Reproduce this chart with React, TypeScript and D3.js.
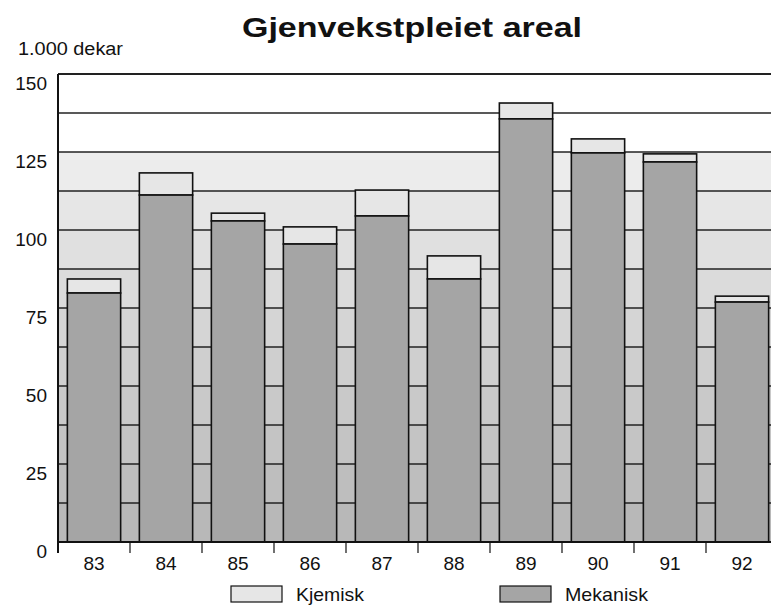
import React, { useEffect, useRef } from "react";
import * as d3 from "d3";

const years = ["83", "84", "85", "86", "87", "88", "89", "90", "91", "92"];
const mekanisk = [79.8, 111.2, 102.9, 95.5, 104.5, 84.3, 135.6, 124.7, 121.8, 76.9];
const kjemisk = [4.5, 7.1, 2.5, 5.5, 8.3, 7.4, 5.1, 4.5, 2.6, 1.9];
const yTicks = [0, 25, 50, 75, 100, 125, 150];
const gridSteps = d3.range(0, 150.01, 12.5);

const FONT = "'Liberation Sans', Arial, Helvetica, sans-serif";

export default function App() {
  const svgRef = useRef<SVGSVGElement>(null);

  useEffect(() => {
    const width = 771;
    const height = 613;
    const left = 58;
    const top = 74;
    const bottom = 542;

    const svg = d3.select(svgRef.current);
    svg.selectAll("*").remove();
    svg.attr("width", width).attr("height", height).style("background", "#fff");

    const x = d3
      .scaleBand<string>()
      .domain(years)
      .range([left, left + 720])
      .paddingInner(0.26)
      .paddingOuter(0.13);
    const y = d3.scaleLinear().domain([0, 150]).range([bottom, top]);

    // shaded background bands, darker toward the bottom
    const shade = d3
      .scaleLinear<string>()
      .domain([0, 112.5, 125])
      .range(["#b8b8b8", "#ececec", "#ffffff"]);
    const bands = gridSteps.slice(0, -1);
    svg
      .append("g")
      .selectAll("rect")
      .data(bands)
      .join("rect")
      .attr("x", left)
      .attr("width", width - left)
      .attr("y", (d) => y(d + 12.5))
      .attr("height", (d) => y(d) - y(d + 12.5))
      .attr("fill", (d) => (d >= 125 ? "#ffffff" : shade(d)));

    // grid lines
    svg
      .append("g")
      .selectAll("line")
      .data(gridSteps)
      .join("line")
      .attr("x1", left)
      .attr("x2", width)
      .attr("y1", (d) => y(d))
      .attr("y2", (d) => y(d))
      .attr("stroke", "#222")
      .attr("stroke-width", (d) => (d === 0 || d === 150 ? 2 : 1.4));

    // stacked bars
    const g = svg.append("g");
    years.forEach((yr, i) => {
      const x0 = x(yr)!;
      const bw = x.bandwidth();
      const m = mekanisk[i];
      const k = kjemisk[i];
      g.append("rect")
        .attr("x", x0)
        .attr("width", bw)
        .attr("y", y(m + k))
        .attr("height", y(m) - y(m + k))
        .attr("fill", "#e6e6e6")
        .attr("stroke", "#111")
        .attr("stroke-width", 1.6);
      g.append("rect")
        .attr("x", x0)
        .attr("width", bw)
        .attr("y", y(m))
        .attr("height", y(0) - y(m))
        .attr("fill", "#a5a5a5")
        .attr("stroke", "#111")
        .attr("stroke-width", 1.6);
    });

    // axes
    svg
      .append("line")
      .attr("x1", left)
      .attr("x2", left)
      .attr("y1", top)
      .attr("y2", bottom + 11)
      .attr("stroke", "#111")
      .attr("stroke-width", 2);
    svg
      .append("line")
      .attr("x1", left)
      .attr("x2", width)
      .attr("y1", bottom)
      .attr("y2", bottom)
      .attr("stroke", "#111")
      .attr("stroke-width", 2);

    svg
      .append("g")
      .selectAll("line")
      .data(years.slice(1))
      .join("line")
      .attr("x1", (d) => x(d)! - (x.step() - x.bandwidth()) / 2)
      .attr("x2", (d) => x(d)! - (x.step() - x.bandwidth()) / 2)
      .attr("y1", bottom)
      .attr("y2", bottom + 11)
      .attr("stroke", "#111")
      .attr("stroke-width", 1.2);

    svg
      .append("g")
      .selectAll("text")
      .data(years)
      .join("text")
      .text((d) => d)
      .attr("x", (d) => x(d)! + x.bandwidth() / 2)
      .attr("y", bottom + 28)
      .attr("text-anchor", "middle")
      .style("font-family", FONT)
      .style("font-size", "19px")
      .attr("fill", "#111");

    svg
      .append("g")
      .selectAll("text")
      .data(yTicks)
      .join("text")
      .text((d) => `${d}`)
      .attr("x", 47)
      .attr("y", (d) => y(d) + 16)
      .attr("text-anchor", "end")
      .style("font-family", FONT)
      .style("font-size", "19px")
      .attr("fill", "#111");

    // titles
    svg
      .append("text")
      .text("Gjenvekstpleiet areal")
      .attr("x", 242)
      .attr("y", 37)
      .attr("textLength", 340)
      .attr("lengthAdjust", "spacingAndGlyphs")
      .style("font-family", FONT)
      .style("font-size", "28px")
      .style("font-weight", "bold")
      .attr("fill", "#111");
    svg
      .append("text")
      .text("1.000 dekar")
      .attr("x", 18)
      .attr("y", 55)
      .attr("textLength", 105)
      .attr("lengthAdjust", "spacingAndGlyphs")
      .style("font-family", FONT)
      .style("font-size", "18px")
      .attr("fill", "#111");

    // legend
    const legend = [
      { label: "Kjemisk", fill: "#e6e6e6", x: 231, w: 68 },
      { label: "Mekanisk", fill: "#a5a5a5", x: 500, w: 83 },
    ];
    legend.forEach((l) => {
      svg
        .append("rect")
        .attr("x", l.x)
        .attr("y", 586)
        .attr("width", 51)
        .attr("height", 16)
        .attr("fill", l.fill)
        .attr("stroke", "#111")
        .attr("stroke-width", 1.2);
      svg
        .append("text")
        .text(l.label)
        .attr("x", l.x + 65)
        .attr("y", 601)
        .attr("textLength", l.w)
        .attr("lengthAdjust", "spacingAndGlyphs")
        .style("font-family", FONT)
        .style("font-size", "19px")
        .attr("fill", "#111");
    });
  }, []);

  return (
    <div style={{ position: "absolute", left: 0, top: 0 }}>
      <svg ref={svgRef}></svg>
    </div>
  );
}
